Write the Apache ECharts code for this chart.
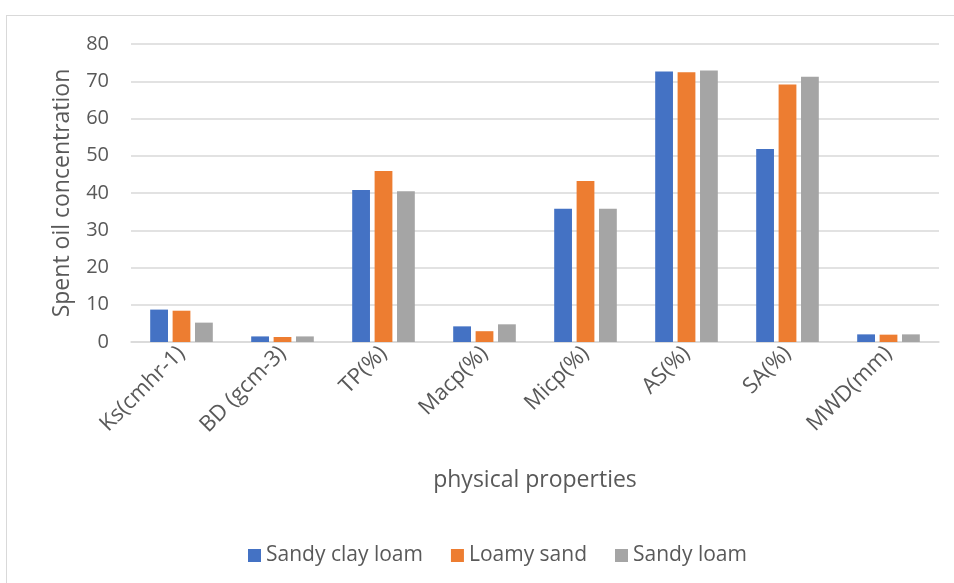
<!DOCTYPE html>
<html>
<head>
<meta charset="utf-8">
<script src="https://cdn.jsdelivr.net/npm/echarts@6/dist/echarts.min.js"></script>
<style>
  html, body { margin: 0; padding: 0; background: #fff; }
  #frame { position: absolute; left: 6px; top: 15px; width: 960px; height: 580px; border: 1px solid #d9d9d9; box-sizing: border-box; }
  #main { position: absolute; left: 0; top: 0; width: 954px; height: 583px; }
</style>
</head>
<body>
<div id="frame"></div>
<div id="main"></div>
<script>
// categories and values
const properties = ['Ks(cmhr-1)', 'BD (gcm-3)', 'TP(%)', 'Macp(%)', 'Micp(%)', 'AS(%)', 'SA(%)', 'MWD(mm)'];
const sandyClayLoam = [8.7, 1.5, 40.8, 4.2, 35.8, 72.6, 51.8, 2.05];
const loamySand = [8.4, 1.35, 45.9, 2.9, 43.2, 72.4, 69.1, 1.97];
const sandyLoam = [5.2, 1.5, 40.5, 4.75, 35.8, 72.9, 71.2, 2.05];
const yTicks = { min: 0, max: 80, interval: 10 };

const textColor = '#595959';
const fontFam = '"Open Sans", "Noto Sans", sans-serif';

let myChart = echarts.init(document.getElementById('main'));

function barSeries(name, data, color) {
    return {
        name: name,
        type: 'bar',
        data: data,
        barGap: '26%',
        barCategoryGap: '38%',
        itemStyle: { color: color },
        silent: true
    };
}

myChart.setOption({
    backgroundColor: 'transparent',
    animation: false,
    textStyle: { fontFamily: fontFam },
    grid: { left: 131, right: 15, top: 44, bottom: 241, containLabel: false },
    xAxis: {
        type: 'category',
        data: properties,
        name: 'physical properties',
        nameLocation: 'middle',
        nameGap: 127,
        nameTextStyle: { color: textColor, fontSize: 23, fontFamily: fontFam },
        axisLine: { lineStyle: { color: '#d9d9d9', width: 1.5 } },
        axisTick: { show: false },
        axisLabel: { rotate: 45, color: textColor, fontSize: 22, margin: 8, interval: 0, fontFamily: fontFam }
    },
    yAxis: {
        type: 'value',
        min: yTicks.min,
        max: yTicks.max,
        interval: yTicks.interval,
        name: 'Spent oil concentration',
        nameLocation: 'middle',
        nameRotate: 90,
        nameGap: 57,
        nameTextStyle: { color: textColor, fontSize: 23, fontFamily: fontFam },
        axisLine: { show: false },
        axisTick: { show: false },
        axisLabel: { color: textColor, fontSize: 20, margin: 22, fontFamily: fontFam },
        splitLine: { lineStyle: { color: '#d9d9d9', width: 1.5 } }
    },
    legend: {
        top: 540,
        left: 243,
        itemWidth: 13,
        itemHeight: 13,
        itemGap: 28,
        icon: 'rect',
        textStyle: { color: textColor, fontSize: 21, fontFamily: fontFam },
        data: ['Sandy clay loam', 'Loamy sand', 'Sandy loam']
    },
    series: [
        barSeries('Sandy clay loam', sandyClayLoam, '#4472c4'),
        barSeries('Loamy sand', loamySand, '#ed7d31'),
        barSeries('Sandy loam', sandyLoam, '#a5a5a5')
    ]
});
</script>
</body>
</html>
